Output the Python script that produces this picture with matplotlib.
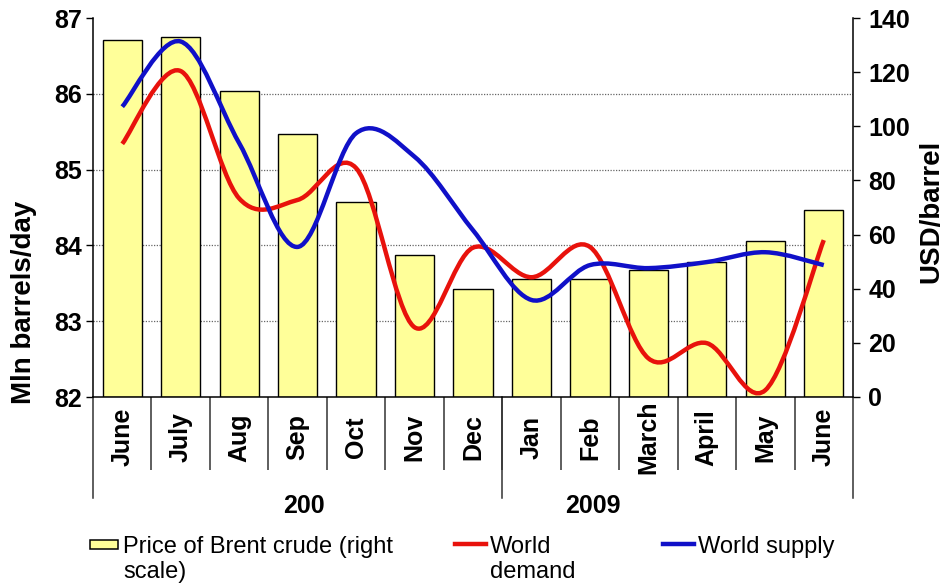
import numpy as np
import matplotlib
matplotlib.use("Agg")
import matplotlib.pyplot as plt
from matplotlib.path import Path
from matplotlib.patches import PathPatch, Rectangle
from matplotlib.lines import Line2D
import matplotlib.transforms as mtransforms

# ---------------- data ----------------
months = ["June", "July", "Aug", "Sep", "Oct", "Nov", "Dec",
          "Jan", "Feb", "March", "April", "May", "June"]
years = ["200", "2009"]
brent_price = [132, 133, 113, 97, 72, 52.5, 40, 43.5, 43.5, 47, 50, 57.5, 69]
world_demand = [85.34, 86.30, 84.62, 84.60, 85.02, 82.92, 83.97,
                83.58, 83.98, 82.51, 82.71, 82.09, 84.07]
world_supply = [85.83, 86.69, 85.35, 83.98, 85.48, 85.17, 84.20,
                83.28, 83.74, 83.70, 83.78, 83.91, 83.74]
left_ticks = [82, 83, 84, 85, 86, 87]
right_ticks = [0, 20, 40, 60, 80, 100, 120, 140]

FONT = "Liberation Sans"
plt.rcParams["font.family"] = [FONT, "DejaVu Sans"]

W, H = 946, 587
fig = plt.figure(figsize=(W / 100, H / 100), dpi=100)

def fx(px):
    return px / W

def fy(py):
    return 1 - py / H

ax_l, ax_r, ax_t, ax_b = 93, 853, 18, 397
ax = fig.add_axes([fx(ax_l), fy(ax_b), fx(ax_r) - fx(ax_l), fy(ax_t) - fy(ax_b)])
ax2 = ax.twinx()
ax.set_zorder(ax2.get_zorder() + 1)
ax.patch.set_visible(False)

x = np.arange(len(months))

# bars on right scale
ax2.bar(x, brent_price, width=0.67, color="#FFFF99", edgecolor="black",
        linewidth=1.0, zorder=3)
ax2.set_ylim(0, 140)
ax2.set_yticks(right_ticks)
ax2.set_yticklabels([str(t) for t in right_ticks], fontsize=18, fontweight="bold")
ax2.tick_params(axis="y", direction="out", length=5, width=1, pad=6)
# gridlines at left-axis ticks, behind bars
grid_pos = [(t - 82) / 5 * 140 for t in left_ticks[1:]]
ax2.set_yticks(grid_pos, minor=True)
ax2.tick_params(axis="y", which="minor", length=0)
ax2.grid(True, which="minor", axis="y", linestyle=(0, (1, 1.2)), color="#666666",
         linewidth=0.9)
ax2.grid(False, which="major")
ax2.set_axisbelow(True)
for s in ["top", "left", "bottom"]:
    ax2.spines[s].set_visible(False)
ax2.spines["right"].set_linewidth(1.1)
ax2.set_ylabel("USD/barrel", fontsize=20, fontweight="bold", rotation=90,
               ha="center", va="center")
ax2.yaxis.set_label_coords((931 - ax_l) / (ax_r - ax_l), (ax_b - 211) / (ax_b - ax_t))

# smooth lines (Catmull-Rom style bezier like Excel)
def smooth_path(xs, ys):
    pts = np.column_stack([xs, ys]).astype(float)
    n = len(pts)
    verts = [pts[0]]
    codes = [Path.MOVETO]
    for i in range(n - 1):
        p0 = pts[i - 1] if i > 0 else pts[i]
        p1 = pts[i]
        p2 = pts[i + 1]
        p3 = pts[i + 2] if i + 2 < n else pts[i + 1]
        c1 = p1 + (p2 - p0) / 6
        c2 = p2 - (p3 - p1) / 6
        verts += [c1, c2, p2]
        codes += [Path.CURVE4] * 3
    return Path(verts, codes)

for ys, col in [(world_demand, "#E8120C"), (world_supply, "#1010C8")]:
    patch = PathPatch(smooth_path(x, ys), facecolor="none", edgecolor=col,
                      linewidth=3.2, capstyle="butt", joinstyle="round", zorder=5)
    ax.add_patch(patch)

ax.set_xlim(-0.5, len(months) - 0.5)
ax2.set_xlim(-0.5, len(months) - 0.5)
ax.set_ylim(82, 87)
ax.set_yticks(left_ticks)
ax.set_yticklabels([str(t) for t in left_ticks], fontsize=18, fontweight="bold")
ax.tick_params(axis="y", direction="out", length=5, width=1, pad=3)
ax.spines["top"].set_visible(False)
ax.spines["right"].set_visible(False)
ax.spines["left"].set_linewidth(1.1)
ax.spines["bottom"].set_linewidth(1.1)
ax.set_ylabel("Mln barrels/day", fontsize=20, fontweight="bold", rotation=90,
              ha="center", va="center")
ax.yaxis.set_label_coords((24 - ax_l) / (ax_r - ax_l), (ax_b - 302) / (ax_b - ax_t))

ax.set_xticks(x)
ax.set_xticklabels(months, rotation=90, fontsize=18, fontweight="bold",
                   va="center", ha="center")
ax.tick_params(axis="x", length=0, pad=29)
ax.set_xticks(np.arange(0.5, len(months) - 1, 1.0), minor=True)
ax.tick_params(axis="x", which="minor", direction="out", length=52.5, width=1.1,
               color="#333333")

# group separators
trans = mtransforms.blended_transform_factory(ax.transData, ax.transAxes)
ext = (498 - ax_b) / (ax_b - ax_t)
for gx in [-0.5, 6.5, len(months) - 0.5]:
    ax.add_line(Line2D([gx, gx], [0, -ext], transform=trans, color="#333333",
                       linewidth=1.1, clip_on=False))
year_y = -(506 - ax_b) / (ax_b - ax_t)
ax.text(3.1, year_y, years[0], transform=trans, ha="center", va="center",
        fontsize=18, fontweight="bold")
ax.text(8.05, year_y, years[1], transform=trans, ha="center", va="center",
        fontsize=18, fontweight="bold")

# legend (manual)
fig.add_artist(Rectangle((fx(90), fy(549)), fx(118) - fx(90), fy(540) - fy(549),
                         transform=fig.transFigure, facecolor="#FFFF99",
                         edgecolor="black", linewidth=1.1))
fig.text(fx(123), fy(536), "Price of Brent crude (right\nscale)", fontsize=17,
         va="top", ha="left", linespacing=1.15)
fig.add_artist(Line2D([fx(455), fx(486)], [fy(544), fy(544)],
                      transform=fig.transFigure, color="#E8120C", linewidth=3.2))
fig.text(fx(490), fy(536), "World\ndemand", fontsize=17, va="top", ha="left",
         linespacing=1.15)
fig.add_artist(Line2D([fx(663), fx(694)], [fy(544), fy(544)],
                      transform=fig.transFigure, color="#1010C8", linewidth=3.2))
fig.text(fx(698), fy(536), "World supply", fontsize=17, va="top", ha="left")

fig.savefig("out.png", dpi=100)
